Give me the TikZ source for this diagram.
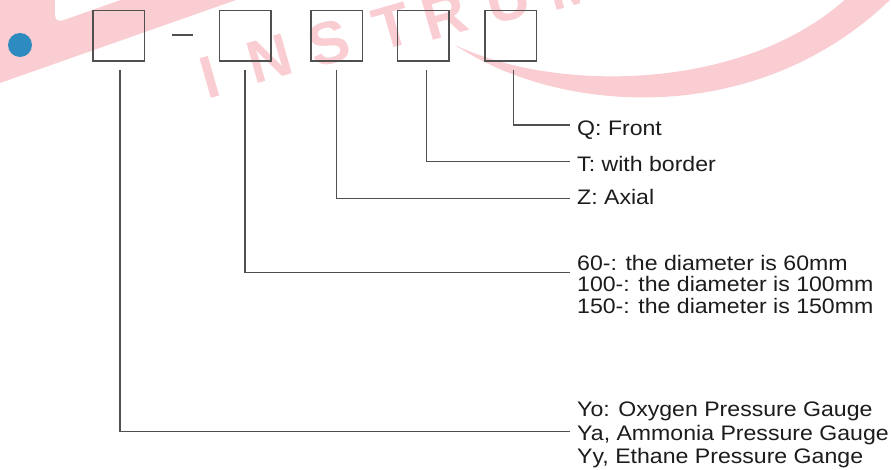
\documentclass[tikz,border=0pt]{standalone}
\usepackage{fontspec}
\usepackage{graphicx}
\newfontfamily\labfont{Liberation Sans}
\newcommand\widetext[1]{\scalebox{1.1}[1]{#1}}
\definecolor{wm}{RGB}{249,205,210}
\definecolor{dotblue}{RGB}{46,139,192}
\definecolor{ink}{RGB}{28,28,28}
\definecolor{rulegray}{RGB}{80,80,80}

\begin{document}
\begin{tikzpicture}[x=1pt,y=-1pt,
  codebox/.style={draw=rulegray, line width=1.5pt, minimum width=51.5pt,
    minimum height=50.5pt, inner sep=0pt},
  conn/.style={draw=rulegray, line width=1.5pt},
  lbl/.style={anchor=base west, inner sep=0pt, text=ink,
    font=\labfont\fontsize{21}{21}\selectfont},
  wmletter/.style={text=wm, font=\labfont\bfseries\fontsize{60}{60}\selectfont,
    rotate=16, inner sep=0pt}
]
\useasboundingbox (0,0) rectangle (891,470);
\fill[white] (0,0) rectangle (891,470);

% faint logo in the background
\fill[wm] (0,0) -- (236,0) -- (0,83) -- cycle;
\fill[white, rounded corners=8pt] (55,-30) -- (55,23) -- (200,-28) -- cycle;
\fill[wm] (455,45) .. controls (560,115) and (760,130) .. (895,-5)
  -- (850,-5) .. controls (750,90) and (560,95) .. (455,45) -- cycle;
\node[wmletter] (wI) at (210,77) {I};
\node[wmletter] (wN) at (270,59) {N};
\node[wmletter] (wS) at (329,43) {S};
\node[wmletter] (wT) at (392,27) {T};
\node[wmletter] (wR) at (445,16) {R};
\node[wmletter] (wU) at (508,0) {U};
\node[wmletter] (wM) at (572,-15) {M};

% bullet
\node[circle, fill=dotblue, minimum size=24pt, inner sep=0pt] (dot) at (20,45) {};

% code boxes
\node[codebox] (b1) at (118.7,36) {};
\node[codebox] (b2) at (245,36) {};
\node[codebox] (b3) at (336.7,36) {};
\node[codebox] (b4) at (423.3,36) {};
\node[codebox] (b5) at (510.8,36) {};
\draw[conn] (172,35) -- (193,35);

% labels
\node[lbl] (tq) at (577,136) {\widetext{Q: Front}};
\node[lbl] (tt) at (577,171.7) {\widetext{T: with border}};
\node[lbl] (tz) at (577,205) {\widetext{Z: Axial}};
\node[lbl] (td1) at (577,270.5) {\widetext{60-: the diameter is 60mm}};
\node[lbl] (td2) at (577,291.7) {\widetext{100-: the diameter is 100mm}};
\node[lbl] (td3) at (577,313) {\widetext{150-: the diameter is 150mm}};
\node[lbl] (ty1) at (577,416.7) {\widetext{Yo: Oxygen Pressure Gauge}};
\node[lbl] (ty2) at (577,440) {\widetext{Ya, Ammonia Pressure Gauge}};
\node[lbl] (ty3) at (577,463) {\widetext{Yy, Ethane Pressure Gange}};

% leaders
\draw[conn] ([xshift=2.5pt,yshift=-8pt]b5.south) |- ([xshift=-7pt,yshift=11pt]tq.base west);
\draw[conn] ([xshift=3.4pt,yshift=-8pt]b4.south) |- ([xshift=-7pt,yshift=10pt]tt.base west);
\draw[conn] ([yshift=-8pt]b3.south) |- ([xshift=-7pt,yshift=6.7pt]tz.base west);
\draw[conn] ([yshift=-8pt]b2.south) |- ([xshift=-7pt,yshift=-2.2pt]td1.base west);
\draw[conn] ([xshift=1.3pt,yshift=-8pt]b1.south) |- ([xshift=-7pt,yshift=8.3pt]ty2.base west);
\end{tikzpicture}
\end{document}
